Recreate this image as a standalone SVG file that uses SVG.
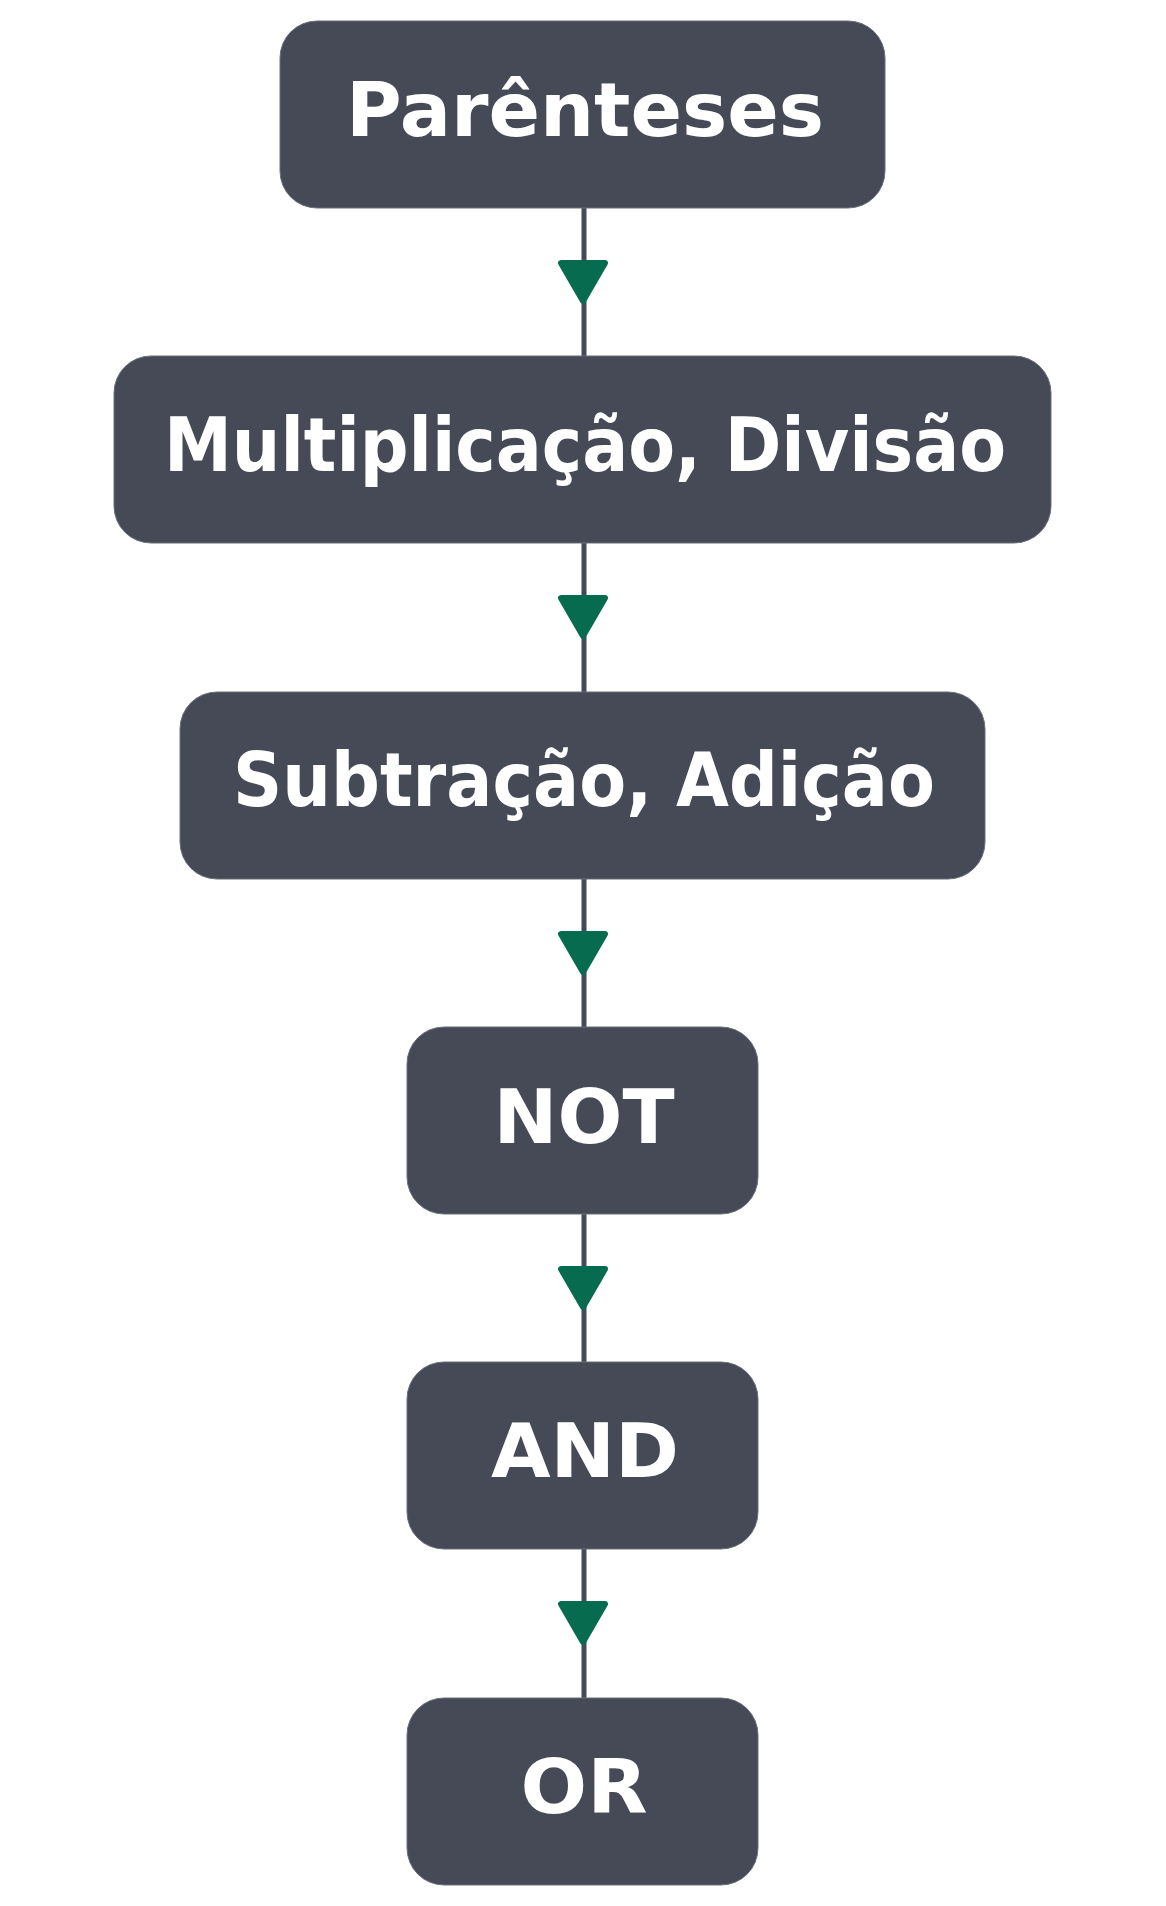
<svg xmlns="http://www.w3.org/2000/svg" xmlns:xlink="http://www.w3.org/1999/xlink" width="1166" height="1906" viewBox="0 0 1166 1906">
<style>
.node rect{fill:#464a57;stroke:#6b6f7a;stroke-width:1}
.node text{fill:#ffffff;font-family:"DejaVu Sans","Verdana",sans-serif;font-weight:bold;font-size:74px;text-anchor:middle}
.edge{stroke:#464a57;stroke-width:5;fill:none}
.arr{fill:#066b4f;stroke:#066b4f;stroke-width:6;stroke-linejoin:round}
</style>
<defs>
<polygon id="arrowhead" class="arr" points="-22,3 22,3 0,41"/>
</defs>
<rect width="1166" height="1906" fill="#ffffff"/>
<g id="connectors">
<line class="edge" x1="584" y1="208" x2="584" y2="356"/>
<line class="edge" x1="584" y1="543" x2="584" y2="692"/>
<line class="edge" x1="584" y1="879" x2="584" y2="1027"/>
<line class="edge" x1="584" y1="1214" x2="584" y2="1362"/>
<line class="edge" x1="584" y1="1549" x2="584" y2="1698"/>
<use xlink:href="#arrowhead" href="#arrowhead" x="583" y="260"/>
<use xlink:href="#arrowhead" href="#arrowhead" x="583" y="595"/>
<use xlink:href="#arrowhead" href="#arrowhead" x="583" y="931"/>
<use xlink:href="#arrowhead" href="#arrowhead" x="583" y="1266"/>
<use xlink:href="#arrowhead" href="#arrowhead" x="583" y="1601"/>
</g>
<g id="node-parenteses" class="node">
<rect x="280" y="21" width="605" height="187" rx="37" ry="37"/>
<text x="585" y="136" textLength="478" lengthAdjust="spacingAndGlyphs">Parênteses</text>
</g>
<g id="node-multiplicacao" class="node">
<rect x="114" y="356" width="937" height="187" rx="37" ry="37"/>
<text x="585" y="471" textLength="842" lengthAdjust="spacingAndGlyphs">Multiplicação, Divisão</text>
</g>
<g id="node-subtracao" class="node">
<rect x="180" y="692" width="805" height="187" rx="37" ry="37"/>
<text x="584" y="806" textLength="702" lengthAdjust="spacingAndGlyphs">Subtração, Adição</text>
</g>
<g id="node-not" class="node">
<rect x="407" y="1027" width="351" height="187" rx="37" ry="37"/>
<text x="584" y="1143" textLength="181" lengthAdjust="spacingAndGlyphs">NOT</text>
</g>
<g id="node-and" class="node">
<rect x="407" y="1362" width="351" height="187" rx="37" ry="37"/>
<text x="585" y="1477" textLength="188" lengthAdjust="spacingAndGlyphs">AND</text>
</g>
<g id="node-or" class="node">
<rect x="407" y="1698" width="351" height="187" rx="37" ry="37"/>
<text x="584" y="1813" textLength="127" lengthAdjust="spacingAndGlyphs">OR</text>
</g>
</svg>
